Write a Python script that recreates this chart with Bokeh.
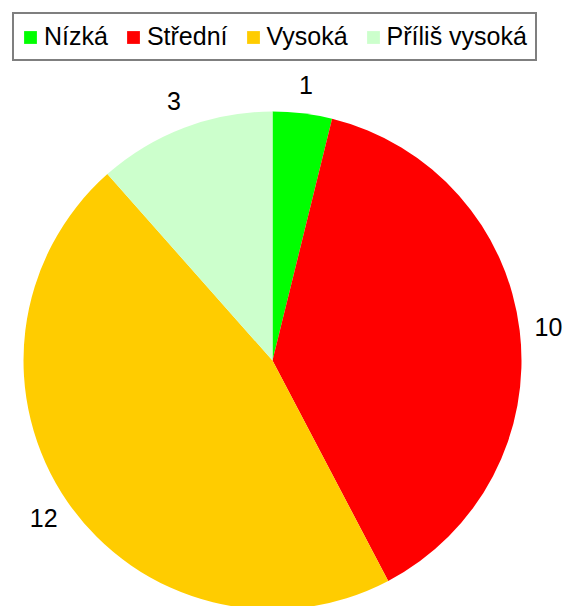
import math
from bokeh.plotting import figure
from bokeh.models import ColumnDataSource, Range1d
from bokeh.core.properties import value
from bokeh.embed import file_html
from bokeh.resources import INLINE

categories = ["Nízká", "Střední", "Vysoká", "Příliš vysoká"]
values = [1, 10, 12, 3]
colors = ["#00FF00", "#FF0000", "#FFCC00", "#CCFFCC"]

W, H = 564, 606
CX, CY, R, LR = 272, 246, 249, 278

total = sum(values)
starts, ends, lx, ly, labels = [], [], [], [], []
cum = 0
for v in values:
    a0 = math.pi / 2 - cum / total * 2 * math.pi
    cum += v
    a1 = math.pi / 2 - cum / total * 2 * math.pi
    starts.append(a0)
    ends.append(a1)
    mid = (a0 + a1) / 2
    lx.append(CX + LR * math.cos(mid))
    ly.append(CY + LR * math.sin(mid))
    labels.append(str(v))

src = ColumnDataSource(dict(cat=categories, val=values, color=colors,
                            start=starts, end=ends, lx=lx, ly=ly, label=labels))

p = figure(width=W, height=H, x_range=Range1d(0, W), y_range=Range1d(0, H),
           output_backend="svg", toolbar_location=None, min_border=0)
p.axis.visible = False
p.grid.visible = False
p.outline_line_color = None
p.background_fill_color = "white"

p.wedge(x=CX, y=CY, radius=R, start_angle="start", end_angle="end",
        direction="clock", fill_color="color", line_color=None,
        legend_field="cat", source=src)

p.text(x="lx", y="ly", text="label", source=src, text_align="center",
       text_baseline="middle", text_font=value("Liberation Sans"),
       text_font_size="25px", text_color="#000000")

lg = p.legend[0]
lg.location = "top_left"
lg.orientation = "horizontal"
lg.margin = 12
lg.padding = 8
lg.spacing = 17
lg.label_standoff = 6
lg.glyph_width = 16
lg.glyph_height = 16
lg.label_height = 16
lg.label_text_font = "Liberation Sans"
lg.label_text_font_size = "25px"
lg.label_text_color = "#000000"
lg.border_line_color = "#000000"
lg.border_line_width = 2
lg.background_fill_alpha = 1.0

open("out.html", "w").write(file_html(p, INLINE))
